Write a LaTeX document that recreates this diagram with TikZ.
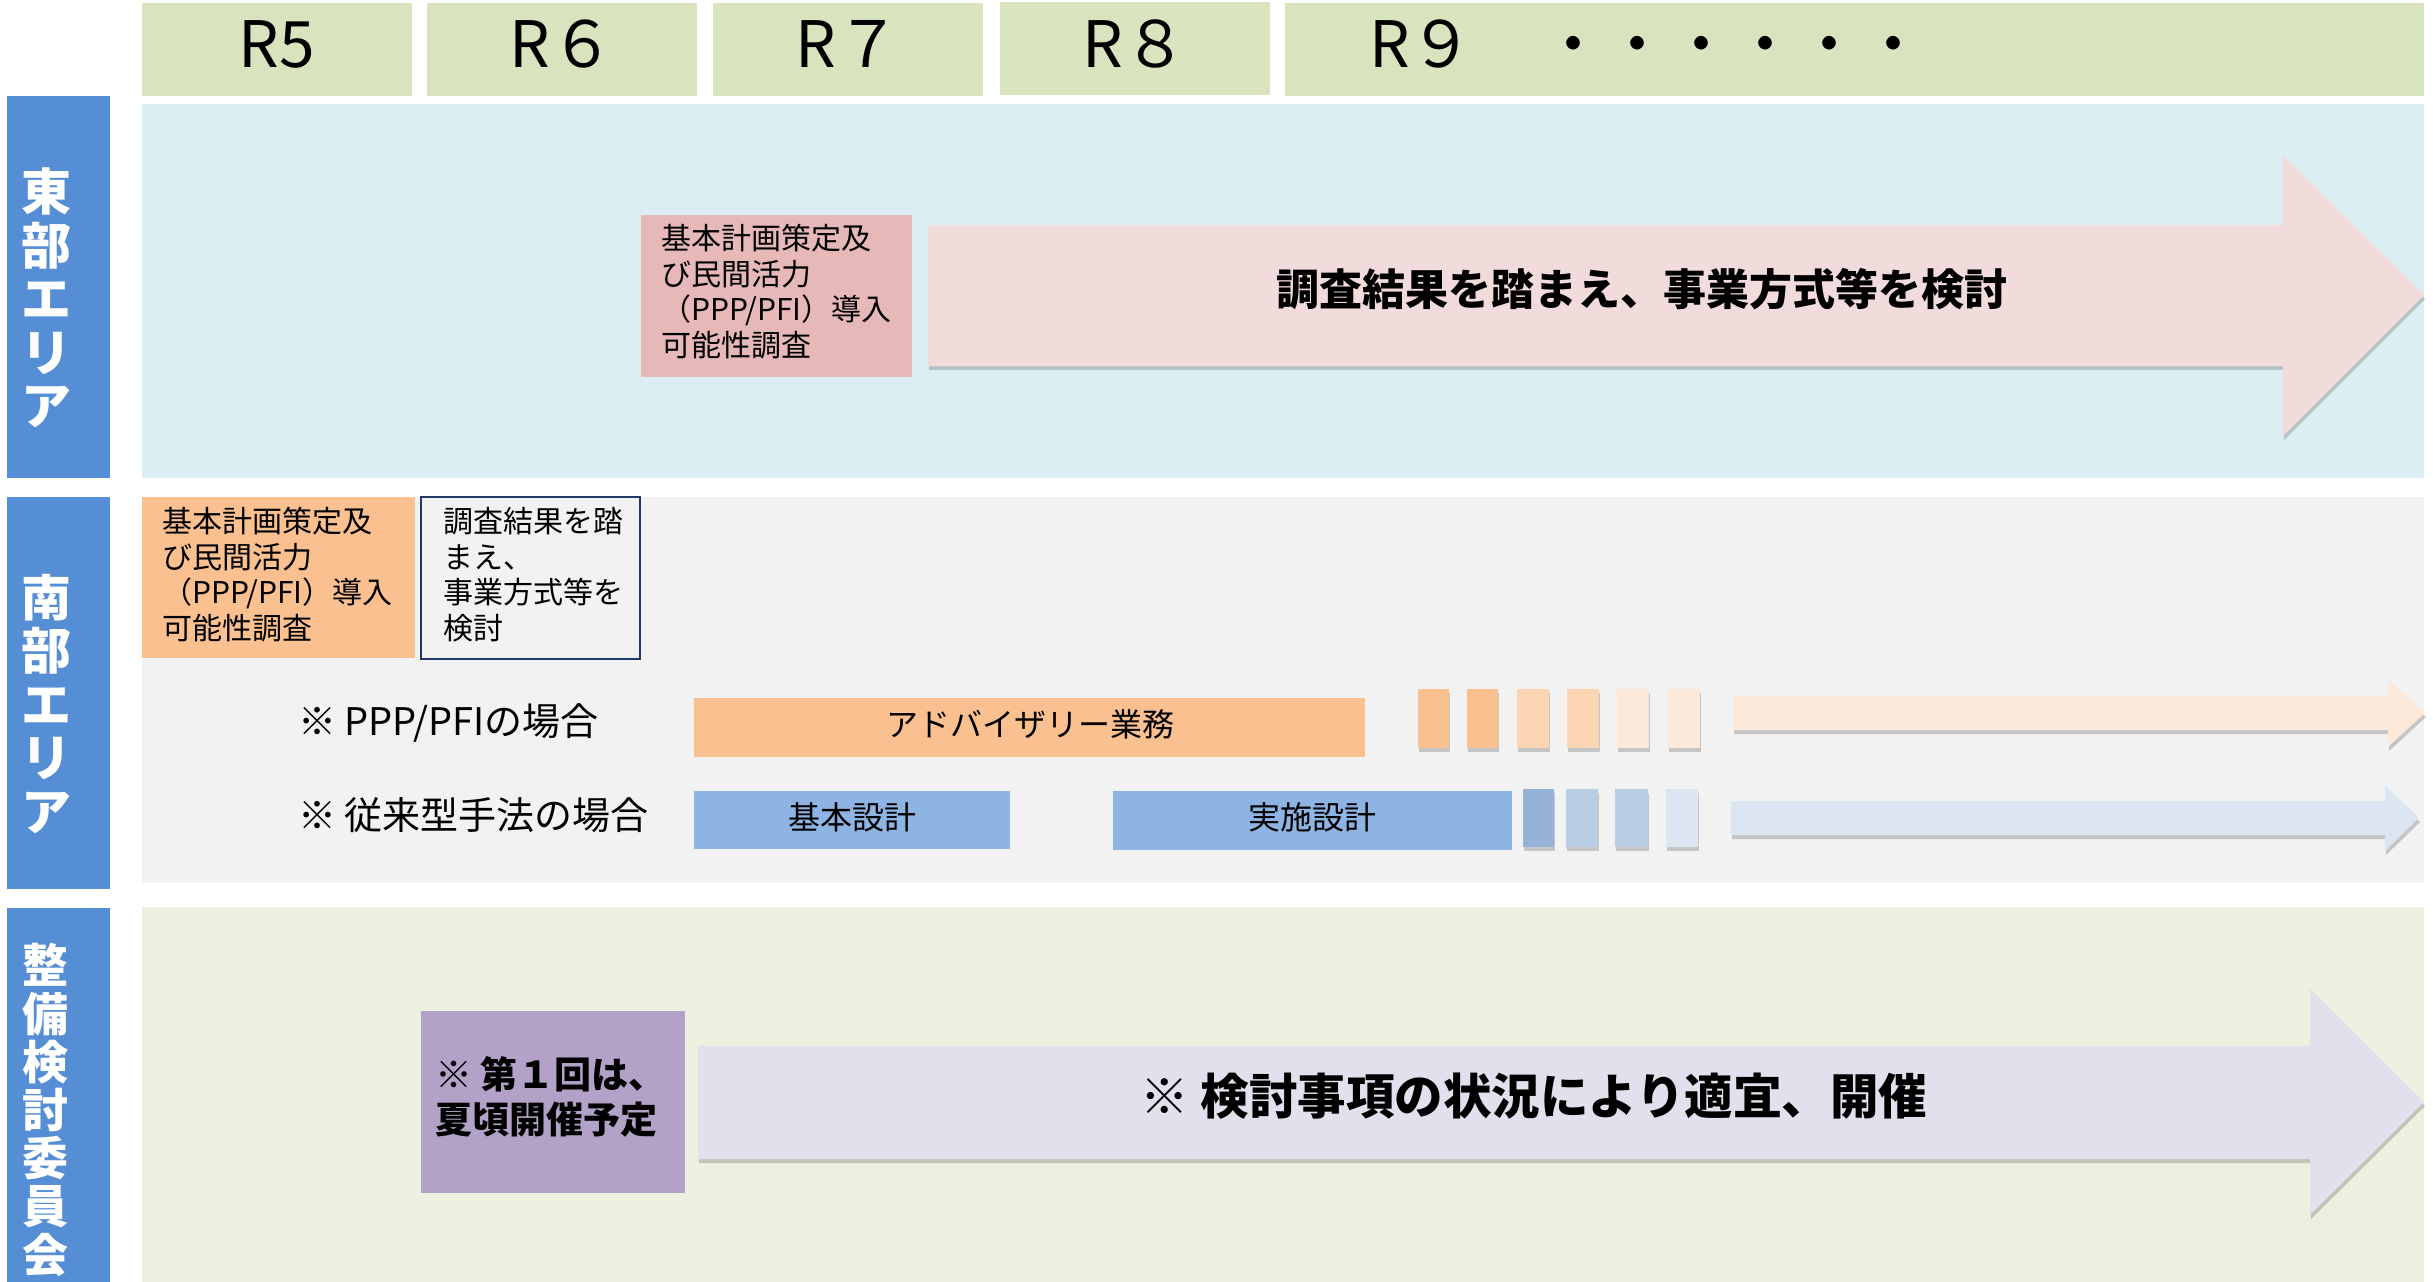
\documentclass[tikz,border=0pt]{standalone}
\usepackage{fontspec}
\setmainfont{Noto Sans CJK JP}
\usetikzlibrary{shadows}
\definecolor{hdr}{HTML}{D7E4BD}
\definecolor{lab}{HTML}{558ED5}
\definecolor{eastbg}{HTML}{DBEEF4}
\definecolor{southbg}{HTML}{F2F2F2}
\definecolor{combg}{HTML}{EBF1DE}
\definecolor{pinkbox}{HTML}{E6B9B8}
\definecolor{pinkarr}{HTML}{F2DCDB}
\definecolor{or1}{HTML}{FAC090}
\definecolor{or2}{HTML}{FCD5B5}
\definecolor{or3}{HTML}{FDE9D9}
\definecolor{bl0}{HTML}{8EB4E3}
\definecolor{bl1}{HTML}{95B3D7}
\definecolor{bl2}{HTML}{B9CDE5}
\definecolor{bl3}{HTML}{DCE6F2}
\definecolor{purbox}{HTML}{B3A2C7}
\definecolor{purarr}{HTML}{E4DFEC}
\definecolor{navy}{HTML}{1F3864}
\begin{document}
\begin{tikzpicture}[x=1pt,y=-1pt,
  blk/.style={anchor=north west, inner sep=0pt, outer sep=0pt, draw=none},
  hdrtxt/.style={font=\fontsize{64}{70}\selectfont, anchor=base, inner sep=0pt},
  labtxt/.style={font=\bfseries\fontsize{50}{53.5}\selectfont, text=white, align=center, inner sep=0pt},
  btxt/.style={font=\fontsize{30}{35.5}\selectfont, align=left, anchor=west, inner sep=0pt},
  bartxt/.style={font=\fontsize{32}{36}\selectfont, anchor=base, inner sep=0pt},
  casetxt/.style={font=\fontsize{38}{42}\selectfont, anchor=west, inner sep=0pt},
  bigtxt/.style={font=\bfseries\fontsize{43}{48}\selectfont, inner sep=0pt},
  shad/.style={drop shadow={shadow xshift=1pt, shadow yshift=-4pt, opacity=0.35, fill=black!55}},
]
\fill[white] (0,0) rectangle (2433,1282);
\useasboundingbox (0,0) rectangle (2433,1282);

% header
\fill[hdr] (142,3) rectangle (412,96);
\fill[hdr] (427,3) rectangle (697,96);
\fill[hdr] (713,3) rectangle (983,96);
\fill[hdr] (1000,2) rectangle (1270,95);
\fill[hdr] (1285,3) rectangle (2424,96);
\node[hdrtxt] (r5) at (277,67) {R5};
\node[hdrtxt] (r6) at (562,67) {R６};
\node[hdrtxt] (r7) at (848,67) {R７};
\node[hdrtxt] (r8) at (1135,67) {R８};
\node[hdrtxt, anchor=base west] (r9) at (1369,67) {R９　\hspace{4pt}・・・・・・};

% row labels
\fill[lab] (7,96) rectangle (110,478);
\fill[lab] (7,497) rectangle (110,889);
\fill[lab] (7,908) rectangle (110,1282);
\node[labtxt] (lE) at (46,298) {東\\部\\エ\\リ\\ア};
\node[labtxt] (lS) at (46,704) {南\\部\\エ\\リ\\ア};
\node[labtxt, font=\bfseries\fontsize{46}{48.2}\selectfont] (lC) at (46,1110) {整\\備\\検\\討\\委\\員\\会};

% backgrounds
\fill[eastbg] (142,104) rectangle (2424,478);
\fill[southbg] (142,497) rectangle (2424,883);
\fill[combg] (142,907) rectangle (2424,1282);

% east area
\node[blk, fill=pinkbox, minimum width=271pt, minimum height=162pt] (eBox) at (641,215) {};
\node[btxt] (eBoxT) at (661,291.5) {基本計画策定及\\び民間活力\\（PPP/PFI）導入\\可能性調査};
\fill[pinkarr, shad] (928,225) -- (2283,225) -- (2283,155) -- (2424,295) -- (2283,436) -- (2283,366) -- (928,366) -- cycle;
\node[bigtxt] (eArrT) at (1642,289) {調査結果を踏まえ、事業方式等を検討};

% south area
\node[blk, fill=or1, minimum width=273pt, minimum height=161pt] (sBox) at (142,497) {};
\node[btxt] (sBoxT) at (162,574.5) {基本計画策定及\\び民間活力\\（PPP/PFI）導入\\可能性調査};
\node[blk, draw=navy, line width=1.5pt, minimum width=219pt, minimum height=162pt] (sOut) at (421,497) {};
\node[btxt] (sOutT) at (443,574.5) {調査結果を踏\\まえ、\\事業方式等を\\検討};

\node[casetxt] (cPPP) at (298,723) {※ PPP/PFIの場合};
\node[casetxt] (cTrad) at (298,815) {※ 従来型手法の場合};

\node[blk, fill=or1, minimum width=671pt, minimum height=59pt] (adv) at (694,698) {};
\node[bartxt] (advT) at (1030,736) {アドバイザリー業務};
\node[blk, fill=or1, shad, minimum width=31pt, minimum height=59pt] (o1) at (1418,689) {};
\node[blk, fill=or1, shad, minimum width=31pt, minimum height=59pt] (o2) at (1467,689) {};
\node[blk, fill=or2, shad, minimum width=32pt, minimum height=59pt] (o3) at (1517,689) {};
\node[blk, fill=or2, shad, minimum width=32pt, minimum height=59pt] (o4) at (1567,689) {};
\node[blk, fill=or3, shad, minimum width=32pt, minimum height=59pt] (o5) at (1617,689) {};
\node[blk, fill=or3, shad, minimum width=32pt, minimum height=59pt] (o6) at (1668,689) {};
\fill[or3, shad] (1733,696) -- (2388,696) -- (2388,680) -- (2425,713) -- (2388,747) -- (2388,730) -- (1733,730) -- cycle;

\node[blk, fill=bl0, minimum width=316pt, minimum height=58pt] (kihon) at (694,791) {};
\node[bartxt] (kihonT) at (852,829) {基本設計};
\node[blk, fill=bl0, minimum width=399pt, minimum height=59pt] (jisshi) at (1113,791) {};
\node[bartxt] (jisshiT) at (1312,829) {実施設計};
\node[blk, fill=bl1, shad, minimum width=31pt, minimum height=58pt] (b1) at (1523,789) {};
\node[blk, fill=bl2, shad, minimum width=32pt, minimum height=58pt] (b2) at (1566,789) {};
\node[blk, fill=bl2, shad, minimum width=33pt, minimum height=58pt] (b3) at (1615,789) {};
\node[blk, fill=bl3, shad, minimum width=32pt, minimum height=58pt] (b4) at (1666,789) {};
\fill[bl3, shad] (1731,801) -- (2385,801) -- (2385,785) -- (2419,818) -- (2385,851) -- (2385,835) -- (1731,835) -- cycle;

% committee
\node[blk, fill=purbox, minimum width=264pt, minimum height=182pt] (cBox) at (421,1011) {};
\node[btxt, font=\bfseries\fontsize{37}{45}\selectfont] (cBoxT) at (435,1097) {※ 第１回は、\\夏頃開催予定};
\fill[purarr, shad] (698,1046) -- (2310,1046) -- (2310,989) -- (2424,1102) -- (2310,1215) -- (2310,1159) -- (698,1159) -- cycle;
\node[bigtxt, font=\bfseries\fontsize{48.5}{53}\selectfont] (cArrT) at (1534,1096) {※ 検討事項の状況により適宜、開催};
\end{tikzpicture}
\end{document}
